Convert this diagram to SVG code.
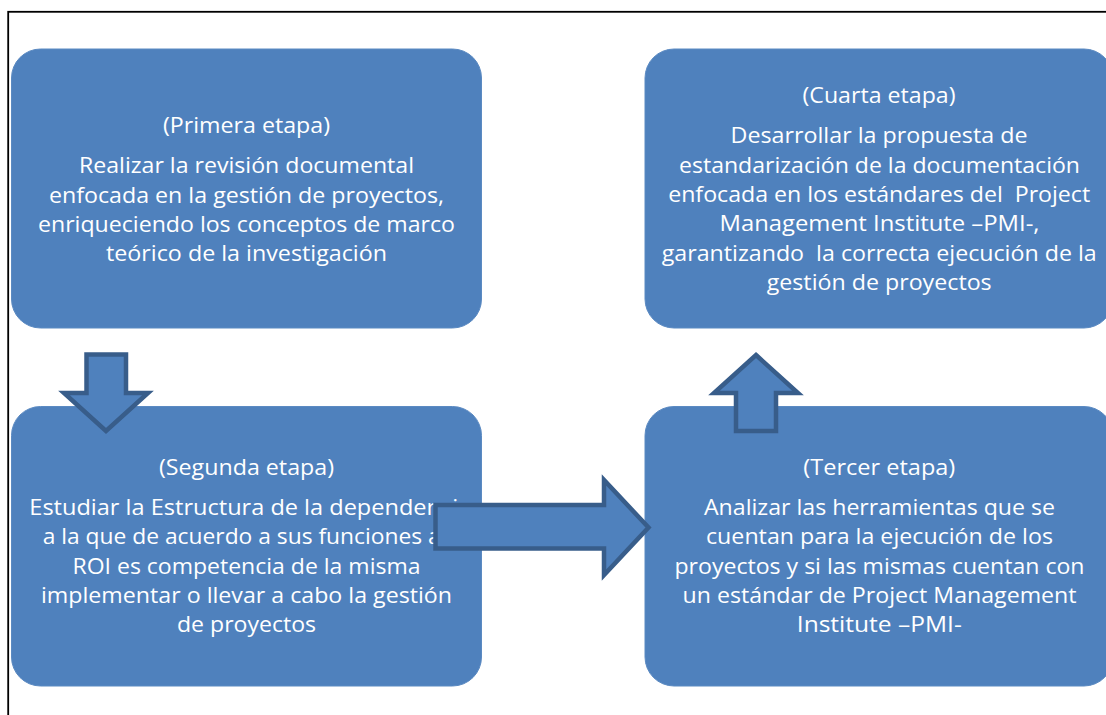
<svg xmlns="http://www.w3.org/2000/svg" width="1106" height="715" viewBox="0 0 1106 715">
<style>
.frame{fill:none;stroke:#000;stroke-width:1.8}
.box{fill:#4F81BD;stroke:#5B8AC2;stroke-width:1}
.arrow{fill:#4F81BD;stroke:#385D8A;stroke-width:4.5;stroke-linejoin:miter}
.t{font-family:"Open Sans","Liberation Sans",sans-serif;font-size:21.5px;fill:#fff;text-anchor:middle}
.s{text-anchor:start}
</style>
<rect class="frame" x="8.2" y="11.8" width="1120" height="730"/>
<g id="node-primera">
<rect class="box" x="11.5" y="49" width="470" height="279" rx="29" ry="29"/>
<text class="t" x="246.5" y="133" textLength="167" lengthAdjust="spacingAndGlyphs">(Primera etapa)</text>
<text class="t" x="246.5" y="173.3" textLength="335" lengthAdjust="spacingAndGlyphs">Realizar la revisión documental</text>
<text class="t" x="246.5" y="202.6" textLength="395" lengthAdjust="spacingAndGlyphs">enfocada en la gestión de proyectos,</text>
<text class="t" x="246.5" y="231.9" textLength="417" lengthAdjust="spacingAndGlyphs">enriqueciendo los conceptos de marco</text>
<text class="t" x="246.5" y="261.2" textLength="281" lengthAdjust="spacingAndGlyphs">teórico de la investigación</text>
</g>
<g id="node-segunda">
<rect class="box" x="11.5" y="406.5" width="470" height="279.5" rx="29" ry="29"/>
<text class="t" x="246.5" y="475" textLength="175" lengthAdjust="spacingAndGlyphs">(Segunda etapa)</text>
<text class="t s" x="29.3" y="515" textLength="442" lengthAdjust="spacingAndGlyphs">Estudiar la Estructura de la dependencia</text>
<text class="t s" x="42.7" y="544.3" textLength="398" lengthAdjust="spacingAndGlyphs">a la que de acuerdo a sus funciones a</text>
<text class="t" x="246.5" y="573.6" textLength="348" lengthAdjust="spacingAndGlyphs">ROI es competencia de la misma</text>
<text class="t" x="246.5" y="602.9" textLength="411" lengthAdjust="spacingAndGlyphs">implementar o llevar a cabo la gestión</text>
<text class="t" x="246.5" y="632.2" textLength="139" lengthAdjust="spacingAndGlyphs">de proyectos</text>
</g>
<g id="node-tercer">
<rect class="box" x="645" y="406.5" width="468" height="279.5" rx="29" ry="29"/>
<text class="t" x="879.3" y="475" textLength="152" lengthAdjust="spacingAndGlyphs">(Tercer etapa)</text>
<text class="t" x="879.5" y="515" textLength="351" lengthAdjust="spacingAndGlyphs">Analizar las herramientas que se</text>
<text class="t" x="879.5" y="544.3" textLength="347" lengthAdjust="spacingAndGlyphs">cuentan para la ejecución de los</text>
<text class="t" x="879.5" y="573.6" textLength="410" lengthAdjust="spacingAndGlyphs">proyectos y si las mismas cuentan con</text>
<text class="t" x="879.5" y="602.9" textLength="394" lengthAdjust="spacingAndGlyphs">un estándar de Project Management</text>
<text class="t" x="879.3" y="632.2" textLength="165" lengthAdjust="spacingAndGlyphs">Institute –PMI-</text>
</g>
<g id="node-cuarta">
<rect class="box" x="645" y="49" width="468" height="279" rx="29" ry="29"/>
<text class="t" x="879" y="103.3" textLength="153" lengthAdjust="spacingAndGlyphs">(Cuarta etapa)</text>
<text class="t" x="879" y="143.3" textLength="297" lengthAdjust="spacingAndGlyphs">Desarrollar la propuesta de</text>
<text class="t" x="879.5" y="172.6" textLength="401" lengthAdjust="spacingAndGlyphs">estandarización de la documentación</text>
<text class="t" x="879.2" y="201.9" textLength="422" lengthAdjust="spacingAndGlyphs" xml:space="preserve">enfocada en los estándares del  Project</text>
<text class="t" x="879.5" y="231.2" textLength="320" lengthAdjust="spacingAndGlyphs">Management Institute –PMI-,</text>
<text class="t" x="879.2" y="260.5" textLength="435" lengthAdjust="spacingAndGlyphs" xml:space="preserve">garantizando  la correcta ejecución de la</text>
<text class="t" x="879.2" y="289.8" textLength="225" lengthAdjust="spacingAndGlyphs">gestión de proyectos</text>
</g>
<g id="connectors">
<path id="arrow-down" class="arrow" d="M86.5,354.5 L126,354.5 L126,393 L148,393 L106,431 L64,393 L86.5,393 Z"/>
<path id="arrow-right" class="arrow" d="M435.5,505 L604,505 L604,480 L648.5,527.5 L604,575 L604,548.5 L435.5,548.5 Z"/>
<path id="arrow-up" class="arrow" d="M756,355 L798,393 L776,393 L776,431 L736,431 L736,393 L714,393 Z"/>
</g>
</svg>
